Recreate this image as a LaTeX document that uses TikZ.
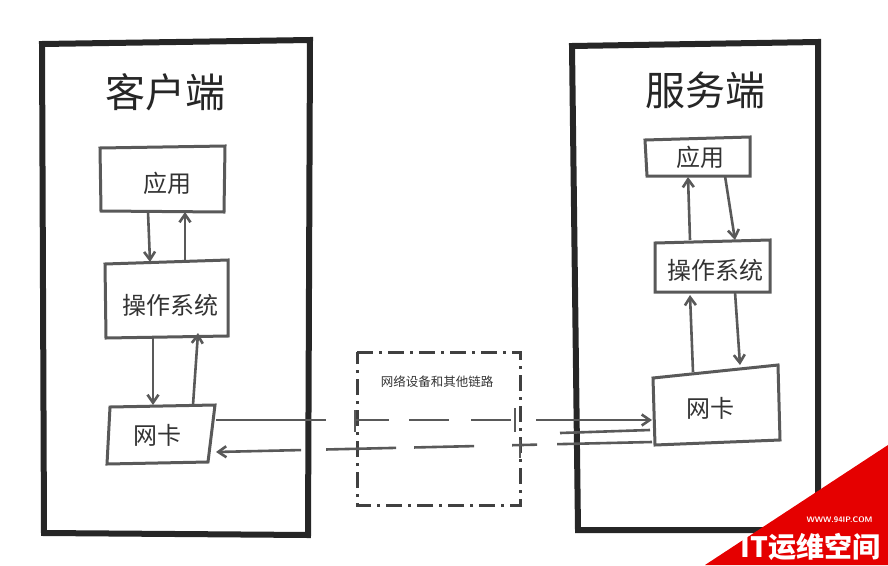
\documentclass[tikz,border=0pt]{standalone}
\usepackage{fontspec}
\newfontfamily\cjk{Noto Sans CJK SC}
\usetikzlibrary{arrows.meta}
\tikzset{
  outer/.style={draw=black!85, line width=6pt},
  inner/.style={draw=black!65, line width=3pt},
  lbl/.style={font=\cjk\fontsize{24}{24}\selectfont, text=black!80},
  title/.style={font=\cjk\fontsize{40}{40}\selectfont, text=black!85},
  arr/.style={draw=black!65, line width=2.6pt, -{Straight Barb[length=8pt,width=11pt]}},
  link/.style={draw=black!65, line width=2.6pt, -{Straight Barb[length=8pt,width=11pt]}}
}
\begin{document}
\begin{tikzpicture}[x=1pt,y=-1pt]
\useasboundingbox (0,0) rectangle (888,565);
% left
\draw[outer] (42,44) -- (310,40) -- (308,535) -- (44,533) -- cycle;
\node[title] (tc) at (165,92) {客户端};
\draw[inner] (100,148) -- (225,146) -- (224,212) -- (101,211) -- cycle;
\node[lbl] (la) at (167,183) {应用};
\draw[inner] (105,264) -- (228,260) -- (228,336) -- (106,338) -- cycle;
\node[lbl] (lo) at (170,305) {操作系统};
\draw[inner] (110,407) -- (215,405) -- (208,462) -- (107,464) -- cycle;
\node[lbl] (ln) at (157,435) {网卡};
\coordinate (a1) at (148,212); \coordinate (a2) at (150,262);
\coordinate (a3) at (185,262); \coordinate (a4) at (185,212);
\coordinate (a5) at (153,338); \coordinate (a6) at (153,405);
\coordinate (a7) at (193,405); \coordinate (a8) at (198,333);
\draw[arr] (a1) -- (a2); \draw[arr] (a3) -- (a4);
\draw[arr] (a5) -- (a6); \draw[arr] (a7) -- (a8);
% right
\draw[outer] (572,46) -- (818,42) -- (818,530) -- (578,530) -- cycle;
\node[title] (tr) at (705,90) {服务端};
\draw[inner] (645,140) -- (750,137) -- (750,176) -- (647,176) -- cycle;
\node[lbl] (ra) at (700,157) {应用};
\draw[inner] (655,243) -- (770,240) -- (770,292) -- (655,292) -- cycle;
\node[lbl] (ro) at (715,270) {操作系统};
\draw[inner] (653,378) -- (778,365) -- (780,440) -- (655,445) -- cycle;
\node[lbl] (rn) at (710,408) {网卡};
\coordinate (b1) at (690,240); \coordinate (b2) at (688,177);
\coordinate (b3) at (725,176); \coordinate (b4) at (735,240);
\coordinate (b5) at (693,372); \coordinate (b6) at (690,295);
\coordinate (b7) at (735,292); \coordinate (b8) at (740,365);
\draw[arr] (b1) -- (b2); \draw[arr] (b3) -- (b4);
\draw[arr] (b5) -- (b6); \draw[arr] (b7) -- (b8);
% middle
\draw[draw=black!75, line width=3pt, dash pattern=on 16pt off 6pt on 3pt off 6pt] (357,352) -- (520,352) -- (520,505) -- (357,505) -- cycle;
\node[font=\cjk\fontsize{12.5}{12.5}\selectfont, text=black!80] (mid) at (437,382) {网络设备和其他链路};
\coordinate (p1) at (216,420); \coordinate (p2) at (652,420);
\coordinate (q1) at (652,442); \coordinate (q2) at (216,452);
\draw[link, dash pattern=on 110pt off 28pt on 35pt off 20pt on 40pt off 22pt on 40pt off 25pt on 200pt] (p1) -- (p2);
\draw[link, dash pattern=on 95pt off 20pt on 25pt off 38pt on 60pt off 18pt on 70pt off 25pt on 200pt] (q1) -- (q2);
\draw[draw=black!65, line width=2.6pt] (560,433) -- (650,430);
\draw[draw=black!65, line width=2.6pt] (355,410) -- (355,432);
\draw[draw=black!65, line width=2.6pt] (515,408) -- (515,432);
\draw[draw=black!65, line width=2.6pt] (520,440) -- (520,458);
% watermark
\fill[red!90!black] (888,445) -- (888,565) -- (705,565) -- cycle;
\node[font=\sffamily\bfseries\fontsize{8}{8}\selectfont, text=white, anchor=east] (w1) at (876,520) {WWW.94IP.COM};
\node[font=\cjk\bfseries\fontsize{28}{28}\selectfont, text=white, anchor=east] (w2) at (884,547) {IT运维空间};
\end{tikzpicture}
\end{document}
